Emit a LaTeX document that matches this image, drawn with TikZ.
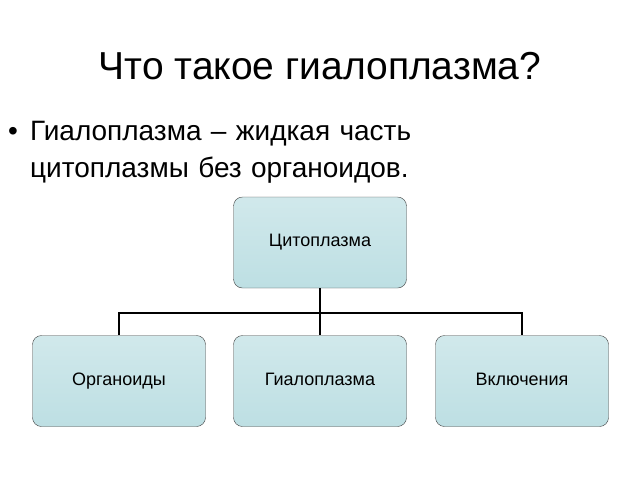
\documentclass[tikz,border=0pt]{standalone}
\usepackage{fontspec}
\setmainfont{Liberation Sans}
\definecolor{boxfill}{HTML}{BDDFE3}
\begin{document}
\begin{tikzpicture}[x=1pt,y=-1pt,
 box/.style={draw=black!75,rounded corners=9pt,inner sep=0pt,minimum width=173pt,minimum height=91pt,
  text height=9pt,text depth=1pt,
  top color=boxfill!70!white,bottom color=boxfill, font=\fontsize{18}{20}\selectfont},
 conn/.style={line width=1.6pt}]
\useasboundingbox (0,0) rectangle (640,480);
\node[font=\fontsize{39}{44}\selectfont] (title) at (320,66) {Что такое гиалоплазма?};
\node[anchor=north west,align=left,font=\fontsize{28}{33}\selectfont,text width=520pt,inner sep=0pt] (txt) at (8,121)
 {\makebox[22pt][l]{•}Гиалоплазма – жидкая часть\\[4pt]\hspace*{22pt}цитоплазмы без органоидов.};
\node[box] (c) at (320,242.5) {Цитоплазма};
\node[box] (o) at (119,381) {Органоиды};
\node[box] (g) at (320,381) {Гиалоплазма};
\node[box] (v) at (522,381) {Включения};
\coordinate (j) at (320,313);
\draw[conn] (c.south) -- (j);
\draw[conn] (j) -| (o.north);
\draw[conn] (j) -- (g.north);
\draw[conn] (j) -| (v.north);
\end{tikzpicture}
\end{document}
